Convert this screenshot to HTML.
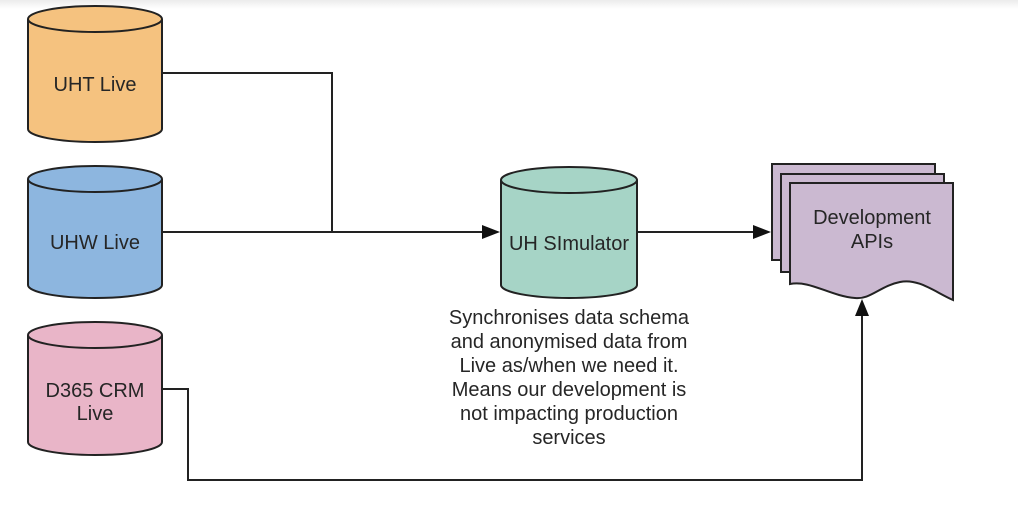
<!DOCTYPE html>
<html><head><meta charset="utf-8"><style>
html,body{margin:0;padding:0;background:#fff;}
svg{display:block;}
text{font-family:"Liberation Sans",Arial,sans-serif;fill:#262626;}
</style></head><body>
<svg width="1018" height="508" viewBox="0 0 1018 508" xmlns="http://www.w3.org/2000/svg">
<defs>
<linearGradient id="g" x1="0" y1="0" x2="0" y2="1"><stop offset="0" stop-color="#ececec"/><stop offset="1" stop-color="#fff"/></linearGradient>
</defs>
<rect x="0" y="0" width="1018" height="9" fill="url(#g)"/>
<g stroke="#222" stroke-width="2">
<path d="M28 19 V129 A67 13 0 0 0 162 129 V19" fill="#f5c27f"/>
<ellipse cx="95" cy="19" rx="67" ry="13" fill="#f5c27f"/>
<path d="M28 179 V285 A67 13 0 0 0 162 285 V179" fill="#8db6df"/>
<ellipse cx="95" cy="179" rx="67" ry="13" fill="#8db6df"/>
<path d="M28 335 V442 A67 13 0 0 0 162 442 V335" fill="#e9b5c8"/>
<ellipse cx="95" cy="335" rx="67" ry="13" fill="#e9b5c8"/>
<path d="M501 180 V285 A68 13 0 0 0 637 285 V180" fill="#a6d4c6"/>
<ellipse cx="569" cy="180" rx="68" ry="13" fill="#a6d4c6"/>
<path d="M772 164 H935 V260 H772 Z" fill="#cbb9d1"/>
<path d="M781 174 H944 V272 H781 Z" fill="#cbb9d1"/>
<path d="M790 183 H953 V300 C935 292 918 278 900 282 C880 286 870 300 855 298 C830 296 810 280 790 284 Z" fill="#cbb9d1"/>
<g fill="none">
<path d="M162 73 H332 V232"/>
<path d="M162 232 H488"/>
<path d="M637 232 H758"/>
<path d="M162 389 H188 V480 H862 V312"/>
</g>
</g>
<g fill="#111">
<path d="M500 232 L482 225 L482 239 Z"/>
<path d="M771 232 L753 225 L753 239 Z"/>
<path d="M862 299 L855 316 L869 316 Z"/>
</g>
<g font-size="20" text-anchor="middle">
<text x="95" y="91">UHT Live</text>
<text x="95" y="249">UHW Live</text>
<text x="95" y="397">D365 CRM</text>
<text x="95" y="420">Live</text>
<text x="569" y="250">UH SImulator</text>
<text x="872" y="224">Development</text>
<text x="872" y="248">APIs</text>
<text x="569" y="324">Synchronises data schema</text>
<text x="569" y="348">and anonymised data from</text>
<text x="569" y="372">Live as/when we need it.</text>
<text x="569" y="396">Means our development is</text>
<text x="569" y="420">not impacting production</text>
<text x="569" y="444">services</text>
</g>
</svg>
</body></html>
